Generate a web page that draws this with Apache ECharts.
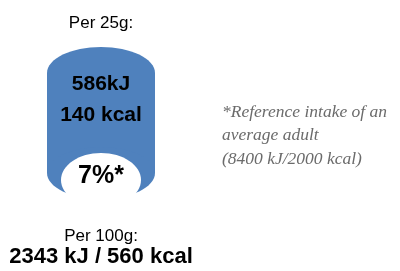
<!DOCTYPE html>
<html lang="en">
<head>
    <meta charset="UTF-8">
    <title>Energy label</title>
    <script src="https://cdn.jsdelivr.net/npm/echarts@6/dist/echarts.min.js"></script>
    <style>
        html, body { margin: 0; padding: 0; background: #fff; }
    </style>
</head>
<body>
    <div id="label" style="width: 400px;height: 271px;"></div>
</body>
<script type="text/javascript">
    // label texts
    var servingTitle = 'Per 25g:';
    var servingValues = ['586kJ', '140 kcal'];
    var intakePct = '7%*';
    var noteLines = ['*Reference intake of an', 'average adult', '(8400 kJ/2000 kcal)'];
    var per100Title = 'Per 100g:';
    var per100Value = '2343 kJ / 560 kcal';

    var chart = echarts.init(document.getElementById('label'));

    var blue = '#4f81bd';
    var sans = '"Liberation Sans", Arial, sans-serif';
    var cx = 101;

    function label(text, x, y, size, weight) {
        return {
            type: 'text',
            z: 10,
            style: {
                text: text,
                x: x,
                y: y,
                fill: '#000',
                font: (weight || 'normal') + ' ' + size + 'px ' + sans,
                textAlign: 'center',
                textVerticalAlign: 'middle'
            }
        };
    }

    var elements = [
        // cylinder body
        { type: 'ellipse', shape: { cx: cx, cy: 73, rx: 54, ry: 26 }, style: { fill: blue } },
        { type: 'rect', shape: { x: 47, y: 73, width: 108, height: 100 }, style: { fill: blue } },
        { type: 'ellipse', shape: { cx: cx, cy: 173, rx: 54, ry: 26 }, style: { fill: blue } },
        // white cut-out at the bottom
        { type: 'ellipse', shape: { cx: cx, cy: 180, rx: 40, ry: 27 }, style: { fill: '#fff' }, z: 5 },

        label(servingTitle, cx, 23, 17),
        label(servingValues[0], cx, 84, 21, 'bold'),
        label(servingValues[1], cx, 115, 21, 'bold'),
        label(intakePct, cx, 176, 25, 'bold'),
        label(per100Title, cx, 236, 17),
        label(per100Value, cx, 257, 22, 'bold')
    ];

    noteLines.forEach(function (line, i) {
        elements.push({
            type: 'text',
            style: {
                text: line,
                x: 222,
                y: 112 + i * 23.5,
                fill: '#6b6b6b',
                font: 'italic 17.5px "Liberation Serif", "Times New Roman", serif',
                textAlign: 'left',
                textVerticalAlign: 'middle'
            }
        });
    });

    var option = {
        animation: false,
        graphic: { elements: elements }
    };

    chart.setOption(option);
</script>
</html>
